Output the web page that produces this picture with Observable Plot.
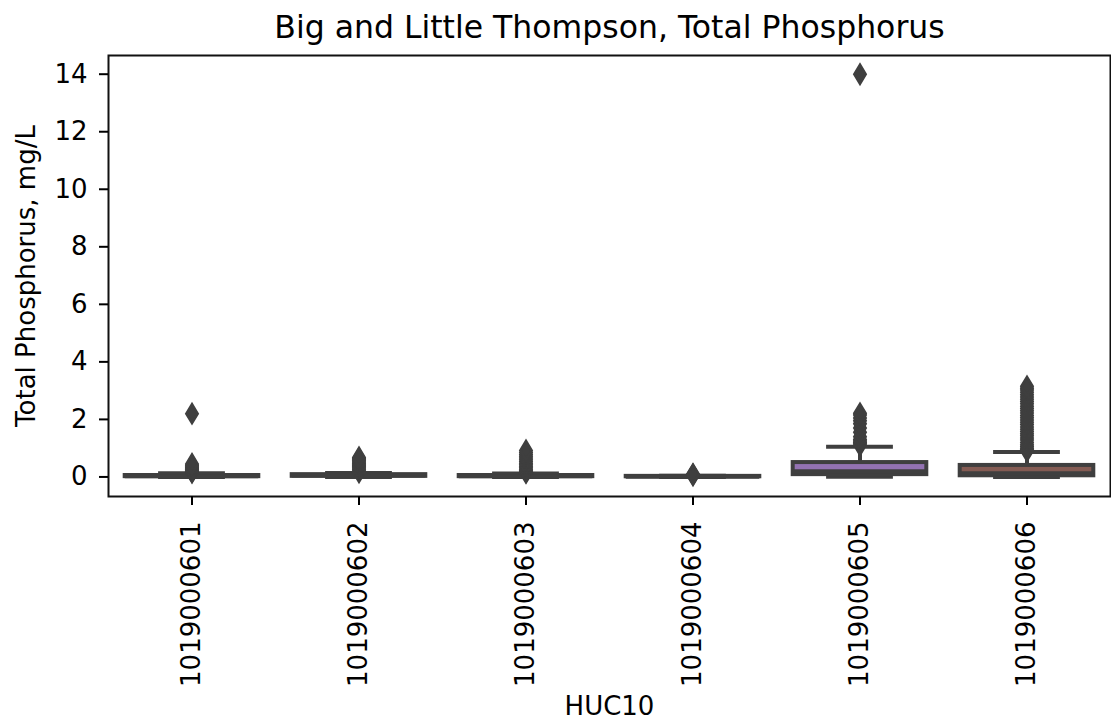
<!DOCTYPE html>
<html><head><meta charset="utf-8">
<script src="https://cdn.jsdelivr.net/npm/d3@7"></script>
<script src="https://cdn.jsdelivr.net/npm/@observablehq/plot@0.6"></script>
<style>html,body{margin:0;padding:0;background:#fff} #chart svg{display:block}</style>
</head><body><div id="chart"></div>
<script>
// ---- data ----
const title = "Big and Little Thompson, Total Phosphorus";
const xLabel = "HUC10";
const yLabel = "Total Phosphorus, mg/L";
const huc = ["1019000601", "1019000602", "1019000603", "1019000604", "1019000605", "1019000606"];
const whiskerLow  = [0.0,  0.0,  0.0,  0.0,  0.005, 0.0];
const q1          = [0.01, 0.02, 0.01, 0.005, 0.08, 0.04];
const median      = [0.02, 0.05, 0.02, 0.01, 0.2,  0.13];
const q3          = [0.05, 0.08, 0.05, 0.02, 0.5,  0.4];
const whiskerHigh = [0.13, 0.14, 0.12, 0.04, 1.05, 0.87];
const outliers601 = [0.15, 0.18, 0.21, 0.24, 0.27, 0.3, 0.33, 0.37, 0.41, 0.45, 2.2];
const outliers602 = [0.16, 0.2, 0.24, 0.28, 0.32, 0.36, 0.4, 0.44, 0.48, 0.52, 0.56, 0.6, 0.64, 0.68];
const outliers603 = [0.14, 0.18, 0.22, 0.27, 0.32, 0.37, 0.42, 0.48, 0.54, 0.6, 0.66, 0.72, 0.78, 0.85, 0.92];
const outliers604 = [0.06, 0.08, 0.1];
const outliers605 = [1.1, 1.15, 1.2, 1.25, 1.3, 1.4, 1.55, 1.7, 1.85, 1.95, 2.05, 2.15, 2.21, 14.0];
const outliers606 = [0.9, 0.95, 1.0, 1.06, 1.12, 1.2, 1.28, 1.35, 1.43, 1.5, 1.58, 1.66, 1.74, 1.82, 1.9, 1.98,
                     2.06, 2.14, 2.22, 2.3, 2.38, 2.46, 2.54, 2.62, 2.7, 2.78, 2.86, 2.94, 3.02, 3.08, 3.15];
const yTicks = [0, 2, 4, 6, 8, 10, 12, 14];
const palette = ["#3274a1", "#e1812c", "#3a923a", "#c03d3e", "#9372b2", "#845b53"];

// ---- build tables ----
const boxes = huc.map((h, i) => ({huc: h, lo: whiskerLow[i], lower: q1[i], med: median[i], upper: q3[i], hi: whiskerHigh[i], boxFill: palette[i]}));
const outlierLists = [outliers601, outliers602, outliers603, outliers604, outliers605, outliers606];
const fliers = outlierLists.flatMap((list, i) => list.map(v => ({huc: huc[i], v})));

const gray = "#3f3f3f";
const thinDiamond = {
  draw(context, size) {
    const r = Math.sqrt(size / Math.PI);
    const w = r * 0.6;
    context.moveTo(0, -r);
    context.lineTo(w, 0);
    context.lineTo(0, r);
    context.lineTo(-w, 0);
    context.closePath();
  }
};
const band = (1110 - 108) / huc.length;

const chart = Plot.plot({
  width: 1111,
  height: 723,
  marginLeft: 108,
  marginRight: 1,
  marginTop: 55,
  marginBottom: 227,
  style: {fontFamily: "DejaVu Sans", fontSize: "26px", color: "black", background: "white"},
  x: {type: "band", domain: huc, padding: 0},
  y: {domain: [-0.68, 14.65]},
  color: {type: "identity"},
  marks: [
    Plot.ruleX(boxes, {x: "huc", y1: "lo", y2: "lower", stroke: gray, strokeWidth: 4}),
    Plot.ruleX(boxes, {x: "huc", y1: "upper", y2: "hi", stroke: gray, strokeWidth: 4}),
    Plot.tickY(boxes, {x: "huc", y: "lo", inset: band * 0.3, stroke: gray, strokeWidth: 4}),
    Plot.tickY(boxes, {x: "huc", y: "hi", inset: band * 0.3, stroke: gray, strokeWidth: 4}),
    Plot.barY(boxes, {x: "huc", y1: "lower", y2: "upper", fill: "boxFill", stroke: gray, strokeWidth: 4, insetLeft: band * 0.1, insetRight: band * 0.1}),
    Plot.tickY(boxes, {x: "huc", y: "med", inset: band * 0.1, stroke: gray, strokeWidth: 4}),
    Plot.dot(fliers, {x: "huc", y: "v", symbol: thinDiamond, r: 9.5, fill: gray, stroke: gray, strokeWidth: 2.5}),
    Plot.frame({stroke: "#111", strokeWidth: 2}),
    Plot.axisY({ticks: yTicks, tickSize: 9, tickPadding: 12, strokeWidth: 2, fontSize: 26, label: null, tickFormat: d => String(d)}),
    Plot.axisX({tickSize: 9, tickPadding: 16, strokeWidth: 2, tickRotate: -90, fontSize: 26, label: null}),
    Plot.text([yLabel], {frameAnchor: "left", textAnchor: "middle", lineAnchor: "middle", rotate: -90, dx: -82, fontSize: 26, fill: "black"}),
    Plot.text([xLabel], {frameAnchor: "bottom", lineAnchor: "middle", dy: 210, fontSize: 26, fill: "black"}),
    Plot.text([title], {frameAnchor: "top", lineAnchor: "middle", dy: -28, fontSize: 31.5, fill: "black"})
  ]
});
document.getElementById("chart").appendChild(chart);
</script>
</body></html>
